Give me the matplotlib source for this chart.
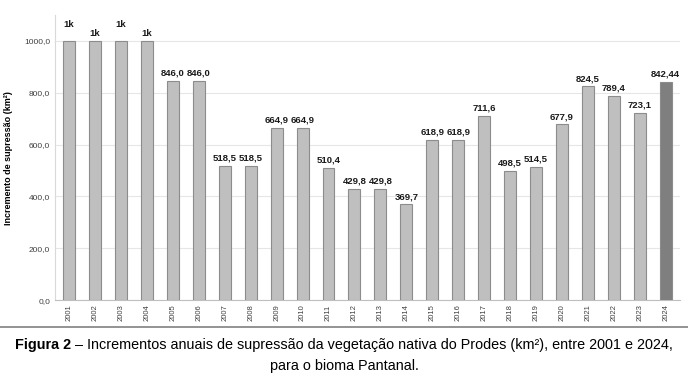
import matplotlib.pyplot as plt
import matplotlib.ticker as mticker
from matplotlib.lines import Line2D

anos = [str(a) for a in range(2001, 2025)]
valores = [1000, 1000, 1000, 1000, 846.0, 846.0, 518.5, 518.5, 664.9, 664.9,
           510.4, 429.8, 429.8, 369.7, 618.9, 618.9, 711.6, 498.5, 514.5, 677.9,
           824.5, 789.4, 723.1, 842.44]
rotulos = ["1k", "1k", "1k", "1k", "846,0", "846,0", "518,5", "518,5", "664,9", "664,9",
           "510,4", "429,8", "429,8", "369,7", "618,9", "618,9", "711,6", "498,5", "514,5", "677,9",
           "824,5", "789,4", "723,1", "842,44"]

plt.rcParams['font.family'] = ['Liberation Sans', 'DejaVu Sans']

fig = plt.figure(figsize=(6.88, 3.77), dpi=100)
ax = fig.add_axes([0.080, 0.204, 0.908, 0.756])

cores = ['#bfbfbf'] * (len(anos) - 1) + ['#7f7f7f']
x = list(range(len(anos)))
ax.bar(x, valores, width=0.46, color=cores, edgecolor='#8c8c8c', linewidth=0.8, zorder=3)

for i, (v, r) in enumerate(zip(valores, rotulos)):
    off = 47 if (i < 4 and i % 2 == 0) else 12
    ax.text(i, v + off, r, ha='center', va='bottom', fontsize=6.8, fontweight='bold', color='#1a1a1a')

ax.set_xlim(-0.54, len(anos) - 0.46)
ax.set_ylim(0, 1100)
ax.set_yticks(range(0, 1001, 200))
ax.yaxis.set_major_formatter(mticker.FuncFormatter(lambda v, p: f"{v:.1f}".replace('.', ',')))
ax.set_xticks(x)
ax.set_xticklabels(anos, rotation=90, fontsize=5.5)
ax.tick_params(axis='y', labelsize=6, length=0, colors='#404040')
ax.tick_params(axis='x', length=0, pad=3, colors='#404040')
ax.grid(axis='y', color='#e6e6e6', linewidth=0.8, zorder=0)
for s in ['top', 'right']:
    ax.spines[s].set_visible(False)
ax.spines['left'].set_color('#d9d9d9')
ax.spines['bottom'].set_color('#bfbfbf')
ax.set_ylabel("Incremento de supressão (km²)", fontsize=6.5, fontweight='bold', labelpad=8)

# legenda da figura: parte em negrito + resto normal, centralizados juntos
fig.add_artist(Line2D([0, 1], [1 - 327 / 377, 1 - 327 / 377], color='#808080', linewidth=1.2))
y1 = 1 - 345 / 377
t_b = fig.text(0, y1, "Figura 2", fontsize=10.4, fontweight='bold', va='center')
t_r = fig.text(0, y1, " – Incrementos anuais de supressão da vegetação nativa do Prodes (km²), entre 2001 e 2024,",
               fontsize=10.4, va='center')
r = fig.canvas.get_renderer()
wb = t_b.get_window_extent(r).width / fig.bbox.width
wr = t_r.get_window_extent(r).width / fig.bbox.width
x0 = 0.5 - (wb + wr) / 2
t_b.set_x(x0)
t_r.set_x(x0 + wb)
fig.text(0.5, 1 - 366 / 377, "para o bioma Pantanal.", ha='center', va='center', fontsize=10.4)

fig.savefig("out.png", dpi=100)
